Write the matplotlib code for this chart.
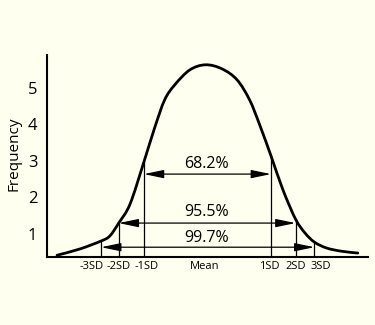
import numpy as np
import matplotlib
matplotlib.use("Agg")
import matplotlib.pyplot as plt
from matplotlib.path import Path
from matplotlib.patches import PathPatch

# Hand-drawn bell curve (x in approx. SD units, y in frequency units)
curve_x = [-2.38, -2.02, -1.68, -1.54, -1.40, -1.22, -1.00, -0.83, -0.67, -0.51,
           -0.27, -0.02, 0.24, 0.48, 0.68, 0.84, 1.02, 1.21, 1.41, 1.56,
           1.71, 1.90, 2.14, 2.40]
curve_y = [0.42, 0.59, 0.81, 0.95, 1.30, 1.82, 2.97, 3.90, 4.67, 5.08,
           5.49, 5.63, 5.52, 5.22, 4.67, 3.99, 3.14, 2.21, 1.41, 1.03,
           0.78, 0.62, 0.53, 0.48]

# SD marker positions
sd_pos = [-1.68, -1.40, -1.00, 1.02, 1.41, 1.71]

# Tick labels
xtick_pos = [-1.83, -1.40, -0.95, -0.03, 1.00, 1.41, 1.81]
xtick_labels = ["-3SD", "-2SD", "-1SD", "Mean", "1SD", "2SD", "3SD"]
ytick_vals = [1, 2, 3, 4, 5]

# Coverage ranges
ranges = [(-1.00, 1.02), (-1.40, 1.41), (-1.68, 1.71)]
range_y = [2.64, 1.30, 0.64]
range_labels = ["68.2%", "95.5%", "99.7%"]
label_y = [2.92, 1.60, 0.89]

bg = "#FFFFF0"
plt.rcParams['font.family'] = ['Open Sans', 'DejaVu Sans']

fig = plt.figure(figsize=(3.75, 3.25), dpi=100, facecolor=bg)
ax = fig.add_axes([0.1253, 0.209, 0.8557, 0.622])
ax.set_facecolor(bg)

xs = np.array(curve_x)
ys = np.array(curve_y)

# Smooth drawing of the curve through the read points (Catmull-Rom -> Bezier path)
pts = np.column_stack([xs, ys])
verts = [pts[0]]
codes = [Path.MOVETO]
n = len(pts)
for i in range(n - 1):
    p0 = pts[i - 1] if i > 0 else pts[i]
    p1 = pts[i]
    p2 = pts[i + 1]
    p3 = pts[i + 2] if i + 2 < n else pts[i + 1]
    c1 = p1 + (p2 - p0) / 6.0
    c2 = p2 - (p3 - p1) / 6.0
    verts += [c1, c2, p2]
    codes += [Path.CURVE4] * 3
ax.add_patch(PathPatch(Path(verts, codes), facecolor="none", edgecolor="black",
                       lw=2.0, capstyle="round", joinstyle="round"))

y0 = 0.37
for p in sd_pos:
    top = np.interp(p, xs, ys)
    ax.plot([p, p], [y0, top], color="black", lw=0.9)

for (a, b), yy, lab, ly in zip(ranges, range_y, range_labels, label_y):
    ax.annotate("", xy=(a, yy), xytext=(b, yy),
                arrowprops=dict(arrowstyle="<|-|>,head_length=1.2,head_width=0.25",
                                color="black", lw=0.9, shrinkA=0, shrinkB=0))
    ax.text(0.0, ly, lab, ha="center", va="center", fontsize=11.5)

ax.set_xlim(-2.54, 2.56)
ax.set_ylim(y0, 5.9)
ax.set_xticks(xtick_pos, xtick_labels, fontsize=8)
ax.set_yticks(ytick_vals, [str(v) for v in ytick_vals], fontsize=12)
ax.tick_params(axis="both", length=0)
ax.tick_params(axis="x", pad=3)
ax.tick_params(axis="y", pad=7)
for s in ["top", "right"]:
    ax.spines[s].set_visible(False)
for s in ["left", "bottom"]:
    ax.spines[s].set_linewidth(1.5)
    ax.spines[s].set_color("black")

fig.text(0.037, 0.527, "Frequency", rotation=90, ha="center", va="center", fontsize=11)

fig.savefig("out.png", dpi=100, facecolor=bg)
